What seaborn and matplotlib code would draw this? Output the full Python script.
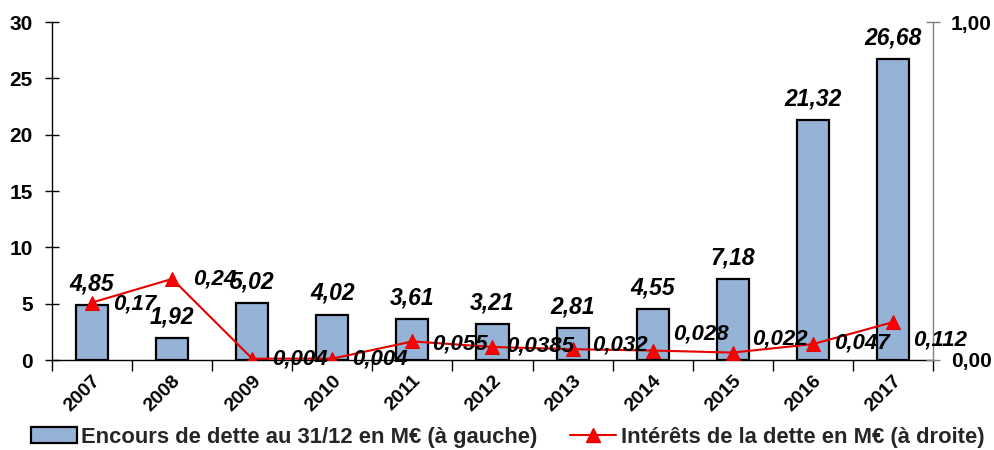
import matplotlib
matplotlib.use("Agg")
import matplotlib.pyplot as plt
import seaborn as sns
import numpy as np
import pandas as pd
from matplotlib.patches import Patch
from matplotlib.lines import Line2D

years = ["2007", "2008", "2009", "2010", "2011", "2012", "2013", "2014", "2015", "2016", "2017"]
encours = [4.85, 1.92, 5.02, 4.02, 3.61, 3.21, 2.81, 4.55, 7.18, 21.32, 26.68]
encours_labels = ["4,85", "1,92", "5,02", "4,02", "3,61", "3,21", "2,81", "4,55", "7,18", "21,32", "26,68"]
interets = [0.17, 0.24, 0.004, 0.004, 0.055, 0.0385, 0.032, 0.028, 0.022, 0.047, 0.112]
interets_labels = ["0,17", "0,24", "0,004", "0,004", "0,055", "0,0385", "0,032", "0,028", "0,022", "0,047", "0,112"]
left_ticks = [0, 5, 10, 15, 20, 25, 30]
right_ticks = [0, 1]
right_tick_labels = ["0,00", "1,00"]
legend_bar = "Encours de dette au 31/12 en M€ (à gauche)"
legend_line = "Intérêts de la dette en M€ (à droite)"

# label offsets (points) for line labels: (dx, dy)
line_label_offsets = [(31, -1), (31, 0), (34, 0), (34, 0), (34, -2), (34, 1), (34, 3), (35, 12), (34, 10), (35, 1), (34, -13)]

sns.set_theme(style="white")
plt.rcParams['font.family'] = ['Liberation Sans', 'DejaVu Sans']

fig = plt.figure(figsize=(9.95, 4.5), dpi=100)
ax = fig.add_axes([52/995, 1-360/450, (933-52)/995, (360-22)/450])

df = pd.DataFrame({"year": years, "encours": encours, "interets": interets})
bar_color = "#95B3D7"
sns.barplot(data=df, x="year", y="encours", ax=ax, color=bar_color, edgecolor="black",
            linewidth=1.6, width=0.4, saturation=1)
ax.set_ylim(0, 30)
ax.set_xlim(-0.5, len(years) - 0.5)
ax.set_yticks(left_ticks)
ax.set_yticklabels([str(t) for t in left_ticks], fontsize=15, fontweight="bold", color="black")
ax.set_xlabel("")
ax.set_ylabel("")

for i, (v, lab) in enumerate(zip(encours, encours_labels)):
    ax.annotate(lab, (i, v), xytext=(0, 7), textcoords="offset points", ha="center", va="bottom",
                fontsize=16.5, fontweight="bold", fontstyle="italic", color="black")

ax2 = ax.twinx()
sns.lineplot(data=df, x="year", y="interets", ax=ax2, color="#E60000", linewidth=1.5,
             marker="^", markersize=10, markeredgecolor="#E60000", markerfacecolor="#FF0000", sort=False)
ax2.set_ylim(0, 1)
ax2.set_xlim(-0.5, len(years) - 0.5)
ax2.set_yticks(right_ticks)
ax2.set_yticklabels(right_tick_labels, fontsize=15, fontweight="bold", color="black")
ax2.set_ylabel("")
ax2.set_xlabel("")

for i, (v, lab) in enumerate(zip(interets, interets_labels)):
    dx, dy = line_label_offsets[i]
    ax2.annotate(lab, (i, v), xytext=(dx, dy), textcoords="offset points", ha="center", va="center",
                 fontsize=16, fontweight="bold", fontstyle="italic", color="black")

# spines
for a in (ax, ax2):
    a.spines["top"].set_visible(False)
ax.spines["right"].set_visible(False)
ax.spines["left"].set_color("black")
ax.spines["bottom"].set_color("black")
ax.spines["left"].set_linewidth(1.0)
ax.spines["bottom"].set_linewidth(1.0)
ax2.spines["left"].set_visible(False)
ax2.spines["bottom"].set_visible(False)
ax2.spines["right"].set_color("#808080")
ax2.spines["right"].set_linewidth(1.0)

ax.tick_params(axis="y", which="major", direction="inout", length=10, width=1, color="black", pad=9, left=True)
ax2.tick_params(axis="y", which="major", direction="inout", length=10, width=1, color="#808080", pad=8, right=True)

# x ticks: labels at centres, tick marks at boundaries
ax.set_xticks(range(len(years)))
ax.set_xticklabels(years, rotation=45, ha="right", rotation_mode="anchor", fontsize=14, fontweight="bold", color="black")
ax.tick_params(axis="x", which="major", length=0, pad=9, bottom=True)
ax.set_xticks(np.arange(-0.5, len(years), 1.0), minor=True)
ax.tick_params(axis="x", which="minor", direction="out", length=8, width=1, color="black", bottom=True)
ax2.tick_params(axis="x", which="both", length=0)

handles = [Patch(facecolor=bar_color, edgecolor="black", linewidth=1.6),
           Line2D([0], [0], color="#E60000", linewidth=1.5, marker="^", markersize=10,
                  markerfacecolor="#FF0000", markeredgecolor="#E60000")]
fig.legend(handles, [legend_bar, legend_line], loc="center", bbox_to_anchor=(0.51, 1-437/450), ncol=2,
           frameon=False, prop={"size": 15.8, "weight": "bold"}, handlelength=2.1, handletextpad=0.2,
           columnspacing=1.5, borderaxespad=0)

fig.savefig("out.png", dpi=100)
